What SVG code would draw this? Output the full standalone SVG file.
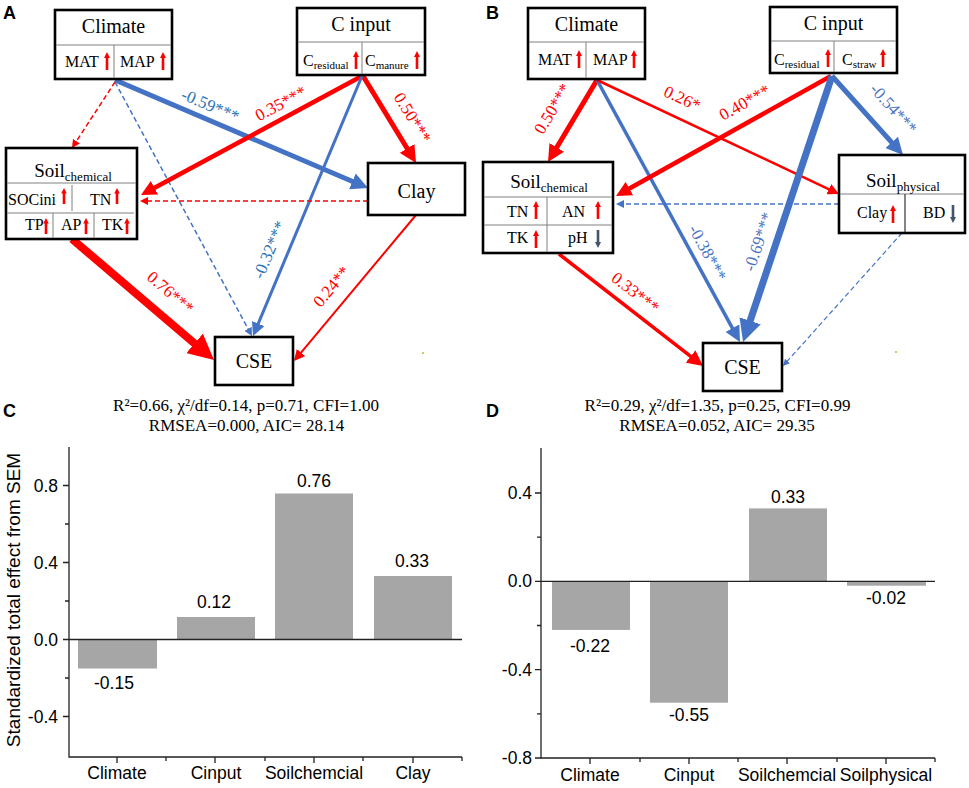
<svg xmlns="http://www.w3.org/2000/svg" width="969" height="788" viewBox="0 0 969 788">
<style>
.box{fill:#fff;stroke:#000;stroke-width:2.6}
.dv{stroke:#808080;stroke-width:1;fill:none}
.t{font-family:"Liberation Serif","Times New Roman",serif;fill:#000}
.h{font-size:20px}
.hs{font-size:19px}
.c{font-size:16px}
.sub{font-size:11px}
.sub2{font-size:13px}
.r{stroke:#ff0000;fill:none}
.b{stroke:#4472c4;fill:none}
.dash{stroke-dasharray:5 3}
.lbl{font-family:"Liberation Serif","Times New Roman",serif;font-size:17px;text-anchor:middle}
.lr{fill:#ff0000}
.lb{fill:#2e75b6}
.lb2{fill:#4a72c0}
.pl{font-family:"Liberation Sans",Arial,sans-serif;font-weight:bold;font-size:18px;fill:#000}
.st{font-family:"Liberation Serif","Times New Roman",serif;font-size:17px;text-anchor:middle;fill:#000}
.ax{stroke:#222;stroke-width:1.3;fill:none}
.bar{fill:#a6a6a6}
.s{font-family:"Liberation Sans",Arial,sans-serif;font-size:17.5px;fill:#000}
.m{text-anchor:middle}
.e{text-anchor:end}
</style>
<defs>
<marker id="mR" viewBox="0 0 10 10" refX="5" refY="5" markerWidth="3.4" markerHeight="3.4" orient="auto"><path d="M0,0 L10,5 L0,10 z" fill="#ff0000"/></marker>
<marker id="mB" viewBox="0 0 10 10" refX="5" refY="5" markerWidth="3.4" markerHeight="3.4" orient="auto"><path d="M0,0 L10,5 L0,10 z" fill="#4472c4"/></marker>
<marker id="mR4" viewBox="0 0 10 10" refX="5" refY="5" markerWidth="4.5" markerHeight="4.5" orient="auto"><path d="M0,0 L10,5 L0,10 z" fill="#ff0000"/></marker>
<marker id="mB4" viewBox="0 0 10 10" refX="5" refY="5" markerWidth="4.5" markerHeight="4.5" orient="auto"><path d="M0,0 L10,5 L0,10 z" fill="#4472c4"/></marker>
<marker id="mRL" viewBox="0 0 10 10" refX="5" refY="5" markerWidth="3.2" markerHeight="3.2" orient="auto"><path d="M0,0 L10,5 L0,10 z" fill="#ff0000"/></marker>
<marker id="mBL" viewBox="0 0 10 10" refX="5" refY="5" markerWidth="3.2" markerHeight="3.2" orient="auto"><path d="M0,0 L10,5 L0,10 z" fill="#4472c4"/></marker>
<marker id="mRt" viewBox="0 0 10 10" refX="5" refY="5" markerWidth="5.5" markerHeight="5.5" orient="auto"><path d="M0,0 L10,5 L0,10 z" fill="#ff0000"/></marker>
<marker id="mBt" viewBox="0 0 10 10" refX="5" refY="5" markerWidth="5.5" markerHeight="5.5" orient="auto"><path d="M0,0 L10,5 L0,10 z" fill="#4472c4"/></marker>
<path id="up" d="M-1.3,18 V6 H-3 L0,0 L3,6 H1.3 V18 z" fill="#ff0000"/>
<path id="ups" d="M-1.3,16 V5.5 H-2.8 L0,0 L2.8,5.5 H1.3 V16 z" fill="#ff0000"/>
<path id="dn" d="M-1.3,0 V12 H-3 L0,18 L3,12 H1.3 V0 z" fill="#44546a"/>
</defs>

<rect width="969" height="788" fill="#fff"/>

<!-- panel letters -->
<text class="pl" x="3" y="19">A</text>
<text class="pl" x="486" y="19">B</text>
<text class="pl" x="3" y="417">C</text>
<text class="pl" x="486" y="417">D</text>

<!-- connectors -->
<g id="connectors">
  <!-- Panel A -->
  <path class="b" stroke-width="5" d="M115,80 L360.2,184.7" marker-end="url(#mB)"/>
  <path class="r dash" stroke-width="1.5" d="M115,82 L74.2,144.6" marker-end="url(#mRt)"/>
  <path class="b dash" stroke-width="1.5" d="M115,82 L250,332.4" marker-end="url(#mBt)"/>
  <path class="r" stroke-width="4.5" d="M362,76 L147.7,191.4" marker-end="url(#mR)"/>
  <path class="r" stroke-width="5" d="M363,76 L411.6,155.7" marker-end="url(#mR)"/>
  <path class="b" stroke-width="3" d="M362,76 L255.6,329.8" marker-end="url(#mB4)"/>
  <path class="r dash" stroke-width="1.5" d="M368,201 L144.1,201" marker-end="url(#mRt)"/>
  <path class="r" stroke-width="8" d="M72,239 L204.3,351.7" marker-end="url(#mRL)"/>
  <path class="r" stroke-width="2" d="M416,215 L297.5,356.8" marker-end="url(#mRt)"/>
  <!-- Panel B -->
  <path class="r" stroke-width="5" d="M597,80 L552.4,154.7" marker-end="url(#mR)"/>
  <path class="b" stroke-width="3.5" d="M597,80 L736.2,335.1" marker-end="url(#mB4)"/>
  <path class="r" stroke-width="2.5" d="M597,80 L833.9,191.6" marker-end="url(#mR4)"/>
  <path class="r" stroke-width="4.5" d="M831,76 L622.7,192.3" marker-end="url(#mR)"/>
  <path class="b" stroke-width="5" d="M832,76 L897.3,148.7" marker-end="url(#mB)"/>
  <path class="b" stroke-width="7" d="M832,76 L746.6,331.4" marker-end="url(#mBL)"/>
  <path class="b dash" stroke-width="1.5" d="M839,204 L620.1,204" marker-end="url(#mBt)"/>
  <path class="r" stroke-width="3.5" d="M559,254 L696.8,361.2" marker-end="url(#mR4)"/>
  <path class="b dash" stroke-width="1.2" d="M902,233 L785.2,363.5" marker-end="url(#mBt)"/>
</g>

<!-- connector labels -->
<g id="labels">
  <text class="lbl lb" x="210" y="111" transform="rotate(23.1 210 106)">-0.59***</text>
  <text class="lbl lr" x="281" y="109" transform="rotate(-28.2 281 104)">0.35***</text>
  <text class="lbl lr" x="412" y="123" transform="rotate(58.6 412 118)">0.50***</text>
  <text class="lbl lb" x="270" y="255" transform="rotate(-67.1 270 250)">-0.32***</text>
  <text class="lbl lr" x="170" y="298" transform="rotate(40.6 170 293)">0.76***</text>
  <text class="lbl lr" x="332" y="292" transform="rotate(-50.1 332 287)">0.24**</text>
  <text class="lbl lr" x="553" y="114" transform="rotate(-59.1 553 109)">0.50***</text>
  <text class="lbl lr" x="682" y="104" transform="rotate(25.2 682 99)">0.26*</text>
  <text class="lbl lr" x="745" y="108" transform="rotate(-29.3 745 103)">0.40***</text>
  <text class="lbl lb2" x="893" y="114" transform="rotate(48 893 109)">-0.54***</text>
  <text class="lbl lb2" x="707" y="258" transform="rotate(61.4 707 253)">-0.38***</text>
  <text class="lbl lb2" x="759" y="247" transform="rotate(-71.5 759 242)">-0.69***</text>
  <text class="lbl lr" x="635" y="298" transform="rotate(37.9 635 293)">0.33***</text>
</g>

<!-- Panel A nodes -->
<g id="A-climate">
  <rect class="box" x="55" y="10" width="117" height="69"/>
  <line class="dv" x1="56" y1="45" x2="171" y2="45"/>
  <line class="dv" x1="114" y1="45" x2="114" y2="78"/>
  <text class="t h m" x="113.5" y="33">Climate</text>
  <text class="t c" x="65" y="67">MAT</text>
  <use href="#up" x="107" y="52"/>
  <text class="t c" x="120" y="67">MAP</text>
  <use href="#up" x="163" y="52"/>
</g>
<g id="A-cinput">
  <rect class="box" x="297" y="8" width="128" height="67"/>
  <line class="dv" x1="298" y1="42" x2="424" y2="42"/>
  <line class="dv" x1="362" y1="42" x2="362" y2="74"/>
  <text class="t h m" x="361" y="31">C input</text>
  <text class="t c" x="303" y="66">C<tspan class="sub" dy="3">residual</tspan></text>
  <use href="#up" x="356" y="51"/>
  <text class="t c" x="365" y="66">C<tspan class="sub" dy="3">manure</tspan></text>
  <use href="#up" x="417" y="51"/>
</g>
<g id="A-soilchem">
  <rect class="box" x="6" y="148" width="131" height="91"/>
  <line class="dv" x1="7" y1="183" x2="136" y2="183"/>
  <line class="dv" x1="7" y1="213" x2="134" y2="213"/>
  <line class="dv" x1="72" y1="185" x2="72" y2="211"/>
  <line class="dv" x1="53" y1="213" x2="53" y2="238"/>
  <line class="dv" x1="94" y1="213" x2="94" y2="238"/>
  <text class="t hs m" x="73" y="177">Soil<tspan class="sub2" dy="4">chemical</tspan></text>
  <text class="t c" x="8" y="205">SOCini</text>
  <use href="#ups" x="64" y="188"/>
  <text class="t c" x="90" y="205">TN</text>
  <use href="#ups" x="117" y="188"/>
  <text class="t c" x="25" y="230">TP</text>
  <use href="#ups" x="46" y="218"/>
  <text class="t c" x="61" y="230">AP</text>
  <use href="#ups" x="86" y="218"/>
  <text class="t c" x="102" y="230">TK</text>
  <use href="#ups" x="127" y="218"/>
</g>
<g id="A-clay">
  <rect class="box" x="368" y="163" width="97" height="52"/>
  <text class="t h m" x="416.5" y="198">Clay</text>
</g>
<g id="A-cse">
  <rect class="box" x="215" y="337" width="78" height="48"/>
  <text class="t h m" x="254" y="368">CSE</text>
</g>
<circle cx="423" cy="353" r="1" fill="#9c3"/>
<text class="st" x="246" y="411">R²=0.66, χ²/df=0.14, p=0.71, CFI=1.00</text>
<text class="st" x="246.5" y="431">RMSEA=0.000, AIC= 28.14</text>

<!-- Panel B nodes -->
<g id="B-climate">
  <rect class="box" x="528" y="8" width="117" height="71"/>
  <line class="dv" x1="529" y1="42" x2="644" y2="42"/>
  <line class="dv" x1="586" y1="42" x2="586" y2="78"/>
  <text class="t h m" x="586.5" y="31">Climate</text>
  <text class="t c" x="538" y="65">MAT</text>
  <use href="#up" x="579" y="50"/>
  <text class="t c" x="593" y="65">MAP</text>
  <use href="#up" x="634" y="50"/>
</g>
<g id="B-cinput">
  <rect class="box" x="770" y="7" width="127" height="66"/>
  <line class="dv" x1="771" y1="41" x2="896" y2="41"/>
  <line class="dv" x1="834" y1="41" x2="834" y2="72"/>
  <text class="t h m" x="833.5" y="30">C input</text>
  <text class="t c" x="774" y="65">C<tspan class="sub" dy="3">residual</tspan></text>
  <use href="#up" x="828" y="49"/>
  <text class="t c" x="842" y="65">C<tspan class="sub" dy="3">straw</tspan></text>
  <use href="#up" x="883" y="49"/>
</g>
<g id="B-soilchem">
  <rect class="box" x="483" y="162" width="130" height="91"/>
  <line class="dv" x1="484" y1="197" x2="612" y2="197"/>
  <line class="dv" x1="484" y1="225" x2="612" y2="225"/>
  <line class="dv" x1="547" y1="197" x2="547" y2="252"/>
  <text class="t hs m" x="549" y="188">Soil<tspan class="sub2" dy="4">chemical</tspan></text>
  <text class="t c" x="507" y="217">TN</text>
  <use href="#up" x="536" y="201"/>
  <text class="t c" x="562" y="217">AN</text>
  <use href="#up" x="598" y="201"/>
  <text class="t c" x="507" y="243">TK</text>
  <use href="#up" x="536" y="230"/>
  <text class="t c" x="568" y="243">pH</text>
  <use href="#dn" x="598" y="230"/>
</g>
<g id="B-soilphys">
  <rect class="box" x="839" y="155" width="126" height="78"/>
  <line class="dv" x1="840" y1="194" x2="964" y2="194"/>
  <line x1="905" y1="194" x2="905" y2="232" stroke="#333" stroke-width="1.2"/>
  <text class="t hs m" x="903" y="187">Soil<tspan class="sub2" dy="4">physical</tspan></text>
  <text class="t c" x="857" y="218">Clay</text>
  <use href="#up" x="893" y="205"/>
  <text class="t c" x="923" y="218">BD</text>
  <use href="#dn" x="953" y="205"/>
</g>
<g id="B-cse">
  <rect class="box" x="703" y="343" width="79" height="48"/>
  <text class="t h m" x="742.5" y="374">CSE</text>
</g>
<circle cx="896" cy="352" r="1" fill="#9c3"/>
<text class="st" x="717.5" y="411">R²=0.29, χ²/df=1.35, p=0.25, CFI=0.99</text>
<text class="st" x="717" y="431">RMSEA=0.052, AIC= 29.35</text>

<!-- Chart C -->
<g id="chart-C">
  <rect class="bar" x="78" y="639.5" width="79" height="29"/>
  <rect class="bar" x="177" y="617" width="78" height="22.5"/>
  <rect class="bar" x="275" y="493.5" width="78" height="146"/>
  <rect class="bar" x="374" y="576" width="78" height="63.5"/>
  <path class="ax" d="M69,447 V757 H462 M69,639.5 H462"/>
  <path class="ax" d="M63,485.5 H69 M63,562.5 H69 M63,639.5 H69 M63,716.5 H69 M65,524 H69 M65,601 H69 M65,678 H69"/>
  <path class="ax" d="M117,757 V763 M215,757 V763 M314,757 V763 M413,757 V763 M166,757 V761 M265,757 V761 M363,757 V761 M462,757 V761"/>
  <text class="s e" x="58" y="491.5">0.8</text>
  <text class="s e" x="58" y="568.5">0.4</text>
  <text class="s e" x="58" y="645.5">0.0</text>
  <text class="s e" x="58" y="722.5">-0.4</text>
  <text class="s m" x="117" y="779">Climate</text>
  <text class="s m" x="216" y="779">Cinput</text>
  <text class="s m" x="314" y="779">Soilchemcial</text>
  <text class="s m" x="413" y="779">Clay</text>
  <text class="s m" x="114" y="689">-0.15</text>
  <text class="s m" x="214" y="608">0.12</text>
  <text class="s m" x="314" y="487">0.76</text>
  <text class="s m" x="412" y="567">0.33</text>
  <text class="s m" x="20" y="600" transform="rotate(-90 20 600)" style="font-size:19px">Standardized total effect from SEM</text>
</g>

<!-- Chart D -->
<g id="chart-D">
  <rect class="bar" x="552" y="581.3" width="78" height="48.6"/>
  <rect class="bar" x="650" y="581.3" width="78" height="121.4"/>
  <rect class="bar" x="749" y="508.4" width="78" height="72.9"/>
  <rect class="bar" x="847" y="581.3" width="79" height="4.4"/>
  <path class="ax" d="M541,448 V758 H935 M541,581.3 H935"/>
  <path class="ax" d="M535,493 H541 M535,581.3 H541 M535,669.6 H541 M535,758 H541 M537,537.2 H541 M537,625.5 H541 M537,713.8 H541"/>
  <path class="ax" d="M590,758 V764 M689,758 V764 M787,758 V764 M886,758 V764 M640,758 V762 M738,758 V762 M837,758 V762 M935,758 V762"/>
  <text class="s e" x="532" y="499">0.4</text>
  <text class="s e" x="532" y="587.3">0.0</text>
  <text class="s e" x="532" y="675.6">-0.4</text>
  <text class="s e" x="532" y="764">-0.8</text>
  <text class="s m" x="590" y="781">Climate</text>
  <text class="s m" x="689" y="781">Cinput</text>
  <text class="s m" x="787" y="781">Soilchemcial</text>
  <text class="s m" x="886" y="781">Soilphysical</text>
  <text class="s m" x="590" y="652">-0.22</text>
  <text class="s m" x="689" y="721">-0.55</text>
  <text class="s m" x="788" y="503">0.33</text>
  <text class="s m" x="886" y="604">-0.02</text>
</g>
</svg>
